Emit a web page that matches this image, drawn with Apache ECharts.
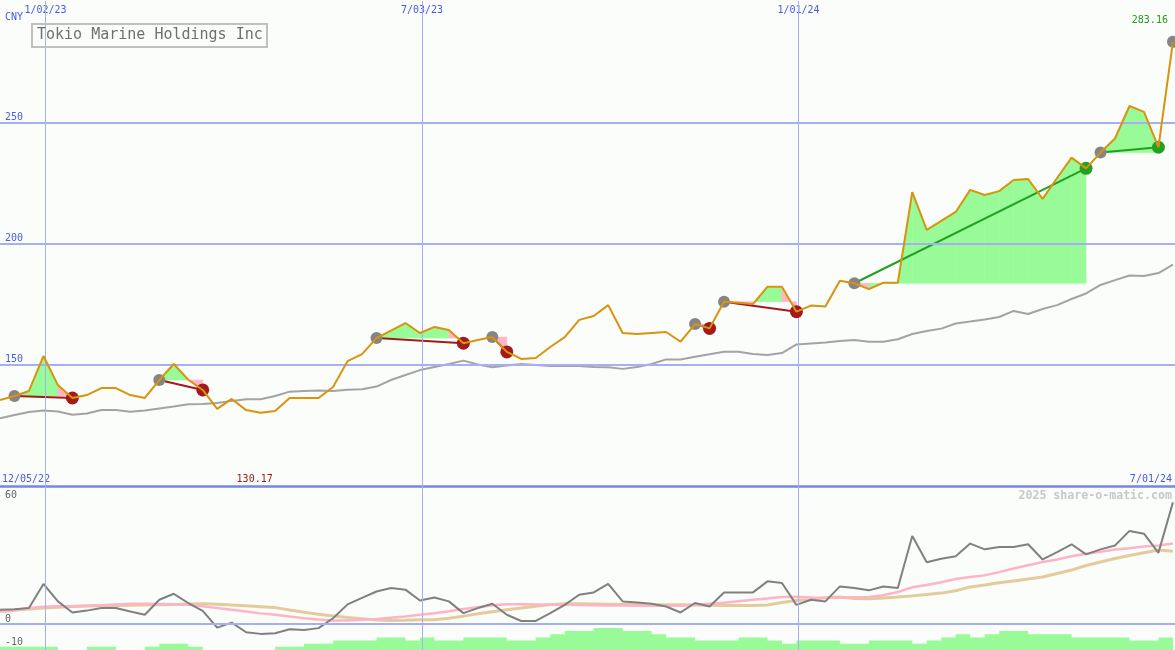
<!DOCTYPE html>
<html>
<head>
<meta charset="utf-8">
<script src="https://cdn.jsdelivr.net/npm/echarts@6/dist/echarts.min.js"></script>
<style>
html,body{margin:0;padding:0;background:#fafdfa;}
#chart{width:1175px;height:650px;}
</style>
</head>
<body>
<div id="chart"></div>
<script>
// ---------- data ----------
const startDay = [2022, 11, 11];          // first weekly point (UTC y, m0, d)
const endDay = [2024, 6, 1];              // right edge of the chart
const gridDates = [[2023, 0, 2], [2023, 6, 3], [2024, 0, 1]];
const rangeLabels = ['12/05/22', '7/01/24'];
const currencyLabel = 'CNY';
const priceLevels = [150, 200, 250];
const oscLabelsLow = [0, -10];
const oscLabelsHigh = [60];

const price = [135.5, 137.1, 139.2, 153.6, 141.6, 136.3, 137.5, 140.4, 140.4, 137.5,
  136.3, 143.7, 150.3, 143.8, 139.6, 131.8, 135.9, 131.3, 130.17, 130.9,
  136.3, 136.3, 136.3, 140.8, 151.5, 154.4, 161.0, 164.1, 167.2, 163.1,
  165.6, 164.3, 158.9, 160.2, 161.4, 155.3, 152.4, 152.8, 157.3, 161.4,
  168.5, 170.1, 174.6, 163.1, 162.7, 163.1, 163.5, 159.5, 166.8, 165.0,
  176.0, 175.6, 175.0, 182.2, 182.2, 171.9, 174.4, 174.0, 184.6, 183.6,
  181.2, 183.8, 183.8, 221.2, 205.6, 209.3, 213.0, 222.1, 220.0, 221.6,
  226.2, 226.6, 218.4, 227.0, 235.4, 231.0, 237.5, 243.3, 256.7, 254.3,
  239.7, 283.16];

const bench = [127.9, 129.3, 130.5, 131.1, 130.7, 129.4, 129.9, 131.3, 131.3, 130.6,
  131.1, 132.0, 132.8, 133.7, 133.8, 134.2, 135.1, 135.8, 135.8, 137.1,
  138.9, 139.2, 139.4, 139.2, 139.7, 139.9, 141.0, 143.7, 145.8, 147.8,
  149.1, 150.3, 151.7, 150.1, 149.0, 149.7, 150.3, 149.9, 149.5, 149.5,
  149.5, 149.1, 149.0, 148.3, 149.1, 150.3, 152.2, 152.2, 153.3, 154.3,
  155.4, 155.4, 154.4, 154.0, 154.8, 158.4, 158.8, 159.2, 159.8, 160.2,
  159.5, 159.5, 160.5, 162.7, 163.9, 164.9, 167.0, 167.8, 168.7, 169.7,
  172.2, 170.9, 173.0, 174.6, 177.1, 179.4, 182.9, 184.9, 186.8, 186.6,
  187.8, 191.3];

const osc = [6.3, 6.5, 7.0, 17.5, 9.9, 5.1, 5.9, 7.0, 7.0, 5.5,
  4.1, 10.6, 13.2, 9.2, 5.8, -1.5, 0.7, -3.5, -4.2, -3.9,
  -2.2, -2.5, -1.7, 2.6, 8.6, 11.4, 14.2, 15.7, 15.0, 10.3,
  11.6, 9.9, 4.8, 7.0, 8.9, 4.1, 1.4, 1.4, 4.8, 8.4,
  12.8, 13.8, 17.5, 9.9, 9.4, 8.9, 7.7, 5.1, 9.2, 7.7,
  13.8, 13.8, 13.8, 18.6, 17.9, 8.4, 10.6, 9.9, 16.4, 15.7,
  14.7, 16.4, 15.7, 38.3, 26.9, 28.4, 29.5, 35.0, 32.5, 33.5,
  33.5, 34.7, 28.1, 31.3, 34.7, 30.3, 32.5, 34.2, 40.5, 39.3,
  31.0, 52.9];

const maFast = [5.5, 6.0, 7.0, 7.6, 7.8, 7.8, 8.0, 8.2, 8.6, 8.9,
  8.9, 8.8, 8.7, 8.4, 7.8, 7.0, 6.3, 5.5, 4.7, 4.1,
  3.3, 2.6, 2.0, 1.6, 1.6, 1.9, 2.3, 2.8, 3.3, 4.1,
  4.8, 5.6, 6.6, 7.4, 8.2, 8.7, 8.7, 8.6, 8.4, 8.4,
  8.3, 8.2, 8.1, 8.1, 8.0, 8.0, 8.0, 8.0, 8.4, 8.9,
  9.3, 10.0, 10.6, 11.2, 11.8, 11.9, 11.6, 11.5, 11.6, 11.7,
  11.8, 12.6, 14.0, 16.0, 17.0, 18.2, 19.6, 20.5, 21.2, 22.6,
  24.2, 25.6, 27.0, 28.1, 29.5, 30.6, 31.5, 32.4, 33.0, 33.7,
  34.2, 35.0];

const maSlow = [5.5, 6.1, 6.6, 7.0, 7.4, 7.7, 7.9, 8.0, 8.1, 8.2,
  8.3, 8.4, 8.6, 8.8, 8.9, 8.7, 8.3, 8.0, 7.6, 7.2,
  6.2, 5.2, 4.3, 3.6, 2.9, 2.4, 1.8, 1.6, 1.7, 1.9,
  1.9, 2.6, 3.5, 4.5, 5.4, 6.3, 7.0, 7.8, 8.5, 8.9,
  8.9, 8.8, 8.7, 8.6, 8.5, 8.4, 8.4, 8.4, 8.3, 8.2,
  8.1, 8.1, 8.1, 8.3, 9.4, 10.3, 10.6, 11.5, 11.8, 11.2,
  11.1, 11.4, 11.8, 12.3, 12.9, 13.5, 14.5, 16.2, 17.0, 18.0,
  18.8, 19.6, 20.5, 22.0, 23.5, 25.5, 27.0, 28.5, 29.8, 31.0,
  32.2, 31.7];

const volume = [1, 1, 1, 1, 0, 0, 1, 1, 0, 0,
  1, 2, 2, 1, 0, 0, 0, 0, 0, 1,
  1, 2, 2, 3, 3, 3, 4, 4, 3, 4,
  3, 3, 4, 4, 4, 3, 3, 4, 5, 6,
  6, 7, 7, 6, 6, 5, 4, 4, 3, 3,
  3, 4, 4, 3, 2, 3, 3, 3, 2, 2,
  3, 3, 3, 2, 3, 4, 5, 4, 5, 6,
  6, 5, 5, 5, 4, 4, 4, 4, 3, 3,
  4, 4];

const entryIdx = [1, 11, 26, 34, 48, 50, 59, 76];
const exitIdx  = [5, 14, 32, 35, 49, 55, 75, 80];
const openIdx  = [81];

// ---------- derived ----------
const DAY = 86400000;
const T0 = Date.UTC(startDay[0], startDay[1], startDay[2]);
const TEND = Date.UTC(endDay[0], endDay[1], endDay[2]);
const ts = i => T0 + i * 7 * DAY;
const gridTs = gridDates.map(d => Date.UTC(d[0], d[1], d[2]));
const fmtDate = v => { const d = new Date(v); return (d.getUTCMonth() + 1) + '/' + String(d.getUTCDate()).padStart(2, '0') + '/' + String(d.getUTCFullYear()).slice(2); };

const pts = arr => arr.map((v, i) => [ts(i), v]);

const GREEN_FILL = '#98fb98', PINK_FILL = '#ffb6c8';
const DARK_RED = '#a31a1a', GREEN = '#22a022';
const GRID_BLUE = '#a6aef4', LABEL_BLUE = '#4a5ae6', MONO = 'DejaVu Sans Mono';

const fillSegs = [];
const tradeLines = [];
const exitDots = [];
entryIdx.forEach((e, k) => {
  const x = exitIdx[k];
  const b = price[e];
  for (let j = e; j < x; j++) {
    fillSegs.push([ts(j), ts(j + 1), b, price[j], price[j + 1], price[j + 1] >= b ? 1 : 0]);
  }
  const win = price[x] >= b;
  tradeLines.push({ coords: [[ts(e), b], [ts(x), price[x]]], lineStyle: { color: win ? GREEN : DARK_RED } });
  exitDots.push({ value: [ts(x), price[x]], itemStyle: { color: win ? GREEN : DARK_RED } });
});
const entryDots = entryIdx.concat(openIdx).map(i => [ts(i), price[i]]);

let minIdx = 0;
price.forEach((v, i) => { if (v < price[minIdx]) minIdx = i; });
const lastIdx = price.length - 1;

const chart = echarts.init(document.getElementById('chart'), null, { renderer: 'canvas' });

const vLines = gridTs.map(t => ({ xAxis: t, lineStyle: { color: GRID_BLUE, width: 1, type: 'solid' } }));

const option = {
  backgroundColor: '#fafdfa',
  animation: false,
  title: {
    text: 'Tokio Marine Holdings Inc',
    left: 32, top: 24,
    padding: [4, 4, 4, 5],
    borderColor: '#c0c0c0', borderWidth: 2,
    textStyle: { fontFamily: MONO, fontSize: 15, fontWeight: 'normal', color: '#707070' }
  },
  grid: [
    { left: 0, right: 0, top: 1, height: 485, outerBoundsMode: 'none', containLabel: false },
    { left: 0, right: 0, top: 486, height: 164, outerBoundsMode: 'none', containLabel: false }
  ],
  xAxis: [
    { type: 'value', gridIndex: 0, min: T0, max: TEND, position: 'top',
      axisLine: { show: false }, axisTick: { show: false }, splitLine: { show: false },
      axisLabel: { inside: true, customValues: gridTs, formatter: fmtDate, margin: 4,
        color: LABEL_BLUE, fontFamily: MONO, fontSize: 10, verticalAlign: 'top' } },
    { type: 'value', gridIndex: 1, min: T0, max: TEND, position: 'top',
      axisLine: { show: true, onZero: false, lineStyle: { color: '#7585e8', width: 2.5 } },
      axisTick: { show: false }, splitLine: { show: false }, axisLabel: { show: false } }
  ],
  yAxis: [
    { type: 'value', gridIndex: 0, min: 100, max: 300, position: 'left',
      axisLine: { show: false }, axisTick: { show: false }, splitLine: { show: false },
      axisLabel: { inside: true, customValues: priceLevels, margin: 5, verticalAlign: 'bottom',
        color: LABEL_BLUE, fontFamily: MONO, fontSize: 10 } },
    { type: 'value', gridIndex: 1, min: -11.2, max: 60, position: 'left',
      axisLine: { show: false }, axisTick: { show: false }, splitLine: { show: false },
      axisLabel: { inside: true, customValues: oscLabelsLow, margin: 5, verticalAlign: 'bottom',
        color: '#666666', fontFamily: MONO, fontSize: 10 } },
    { type: 'value', gridIndex: 1, min: -11.2, max: 60, position: 'left',
      axisLine: { show: false }, axisTick: { show: false }, splitLine: { show: false },
      axisLabel: { inside: true, customValues: oscLabelsHigh, margin: 5, verticalAlign: 'top', padding: [4, 0, 0, 0],
        color: '#666666', fontFamily: MONO, fontSize: 10 } },
    { type: 'value', gridIndex: 1, min: 0, max: 52, show: false, splitLine: { show: false } }
  ],
  graphic: [
    { type: 'text', left: 5, top: 12, style: { text: currencyLabel, fill: LABEL_BLUE, font: '10px "DejaVu Sans Mono"' } },
    { type: 'text', left: 2, top: 474, style: { text: rangeLabels[0], fill: LABEL_BLUE, font: '10px "DejaVu Sans Mono"' } },
    { type: 'text', right: 3, top: 474, style: { text: rangeLabels[1], fill: LABEL_BLUE, font: '10px "DejaVu Sans Mono"' } },
    { type: 'text', right: 3, top: 490, style: { text: '2025 share-o-matic.com', fill: '#c8c8c8', font: 'bold 11.6px "DejaVu Sans Mono"' } }
  ],
  series: [
    { type: 'line', name: 'bench', xAxisIndex: 0, yAxisIndex: 0, z: 2, data: pts(bench),
      symbol: 'none', lineStyle: { color: '#a3a3a3', width: 2 },
      markLine: { silent: true, symbol: ['none', 'none'], label: { show: false },
        data: vLines.concat(priceLevels.map(v => ({ yAxis: v, lineStyle: { color: GRID_BLUE, width: 2, type: 'solid' } }))) } },
    { type: 'custom', name: 'fills', xAxisIndex: 0, yAxisIndex: 0, z: 3, data: fillSegs,
      encode: { x: [0, 1], y: [2, 3, 4] },
      renderItem: (params, api) => {
        const a = api.coord([api.value(0), api.value(2)]);
        const b = api.coord([api.value(0), api.value(3)]);
        const c = api.coord([api.value(1), api.value(4)]);
        const d = api.coord([api.value(1), api.value(2)]);
        const col = api.value(5) ? GREEN_FILL : PINK_FILL;
        return { type: 'polygon', shape: { points: [a, b, c, d] }, style: { fill: col, stroke: col, lineWidth: 0.6 } };
      } },
    { type: 'lines', coordinateSystem: 'cartesian2d', xAxisIndex: 0, yAxisIndex: 0, z: 4,
      data: tradeLines, lineStyle: { width: 2, opacity: 1 }, effect: { show: false } },
    { type: 'scatter', name: 'entry', xAxisIndex: 0, yAxisIndex: 0, z: 5, data: entryDots,
      symbolSize: 12, itemStyle: { color: '#858585', opacity: 1 } },
    { type: 'scatter', name: 'exit', xAxisIndex: 0, yAxisIndex: 0, z: 5, data: exitDots, symbolSize: 13,
      itemStyle: { opacity: 1 } },
    { type: 'line', name: 'price', xAxisIndex: 0, yAxisIndex: 0, z: 6, data: pts(price),
      symbol: 'none', lineStyle: { color: '#d9930c', width: 2 },
      markPoint: { symbol: 'circle', symbolSize: 1, itemStyle: { color: 'rgba(0,0,0,0)' },
        data: [
          { coord: [ts(minIdx), 102.9], value: price[minIdx],
            label: { show: true, position: 'inside', offset: [-6, 0], formatter: p => p.value.toFixed(2),
              color: '#a01c1c', fontFamily: MONO, fontSize: 10 } },
          { coord: [ts(lastIdx), 291.8], value: price[lastIdx],
            label: { show: true, position: 'inside', align: 'right', offset: [-5, 0], formatter: p => p.value.toFixed(2),
              color: '#1f9a1f', fontFamily: MONO, fontSize: 10 } }
        ] } },
    { type: 'line', name: 'volume', xAxisIndex: 1, yAxisIndex: 3, z: 1, data: pts(volume),
      step: 'end', symbol: 'none', lineStyle: { width: 0, color: GREEN_FILL }, areaStyle: { color: GREEN_FILL, opacity: 1 } },
    { type: 'line', name: 'maSlow', xAxisIndex: 1, yAxisIndex: 1, z: 3, data: pts(maSlow),
      symbol: 'none', lineStyle: { color: '#e3cb9b', width: 3 } },
    { type: 'line', name: 'maFast', xAxisIndex: 1, yAxisIndex: 1, z: 3, data: pts(maFast),
      symbol: 'none', lineStyle: { color: '#ffb3c6', width: 2.5 } },
    { type: 'line', name: 'osc', xAxisIndex: 1, yAxisIndex: 1, z: 4, data: pts(osc),
      symbol: 'none', lineStyle: { color: '#808080', width: 2 },
      markLine: { silent: true, symbol: ['none', 'none'], label: { show: false },
        data: vLines.concat([{ yAxis: 0, lineStyle: { color: GRID_BLUE, width: 2, type: 'solid' } }]) } }
  ]
};
chart.setOption(option);
</script>
</body>
</html>
